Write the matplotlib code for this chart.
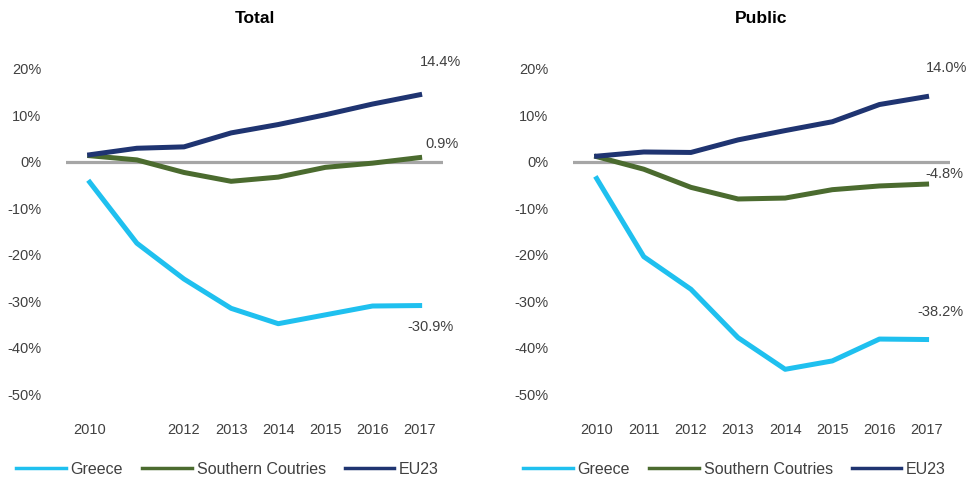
import matplotlib
matplotlib.use('Agg')
from matplotlib import pyplot

pyplot.rcParams.update({'font.family': 'Liberation Sans', 'font.size': 10.5})

years = [2010, 2011, 2012, 2013, 2014, 2015, 2016, 2017]

total_greece = [-4.4, -17.5, -25.2, -31.5, -34.8, -32.9, -31.0, -30.9]
total_south = [1.3, 0.4, -2.3, -4.2, -3.3, -1.2, -0.3, 0.9]
total_eu23 = [1.5, 2.9, 3.2, 6.2, 8.0, 10.1, 12.4, 14.4]

public_greece = [-3.6, -20.4, -27.4, -37.8, -44.6, -42.8, -38.1, -38.2]
public_south = [1.1, -1.6, -5.5, -8.0, -7.8, -6.0, -5.2, -4.8]
public_eu23 = [1.2, 2.1, 2.0, 4.7, 6.7, 8.6, 12.3, 14.0]

total_xlabels = ['2010', '', '2012', '2013', '2014', '2015', '2016', '2017']
public_xlabels = ['2010', '2011', '2012', '2013', '2014', '2015', '2016', '2017']
yticks = [20, 10, 0, -10, -20, -30, -40, -50]

c_greece = '#1fc0ef'
c_south = '#4b6b2f'
c_eu23 = '#1f3471'
text_col = '#404040'

fig = pyplot.figure(figsize=(9.73, 4.78), dpi=100)
ax1 = fig.add_axes([0.068, 0.132, 0.3875, 0.772])
ax2 = fig.add_axes([0.589, 0.132, 0.3875, 0.772])

panels = [
    (ax1, 'Total', total_greece, total_south, total_eu23, total_xlabels,
     [(21, 33), (22, 14), (11, -21)]),
    (ax2, 'Public', public_greece, public_south, public_eu23, public_xlabels,
     [(20, 29), (18, 10), (14, 28)]),
]

for ax, title, greece, south, eu23, xlabels, offs in panels:
    ax.axhline(0, color='#a6a6a6', linewidth=2.3, zorder=1)
    ax.plot(years, greece, color=c_greece, linewidth=3.6, label='Greece', zorder=3)
    ax.plot(years, south, color=c_south, linewidth=3.6, label='Southern Coutries', zorder=3)
    ax.plot(years, eu23, color=c_eu23, linewidth=3.6, label='EU23', zorder=3)
    ax.set_xlim(2009.5, 2017.5)
    ax.set_ylim(-54.4, 24.9)
    ax.set_xticks(years)
    ax.set_xticklabels(xlabels)
    ax.set_yticks(yticks)
    ax.set_yticklabels(['%d%%' % v for v in yticks])
    ax.tick_params(length=0, colors=text_col, pad=6)
    ax.tick_params(axis='y', pad=18)
    for s in ax.spines.values():
        s.set_visible(False)
    ax.set_title(title, fontweight='bold', fontsize=12.5, pad=16.5)
    for vals, off in zip([eu23, south, greece], offs):
        ax.annotate('%.1f%%' % vals[-1], (years[-1], vals[-1]), xytext=off,
                    textcoords='offset pixels', ha='center', va='center',
                    color=text_col)
    leg = ax.legend(loc='upper left', bbox_to_anchor=(-0.149, -0.11), ncol=3,
                    frameon=False, fontsize=11.5, handlelength=3.1,
                    columnspacing=1.2, handletextpad=0.3, borderaxespad=0)
    for line in leg.get_lines():
        line.set_linewidth(2.5)
    for t in leg.get_texts():
        t.set_color(text_col)

fig.savefig('out.png', dpi=100)
